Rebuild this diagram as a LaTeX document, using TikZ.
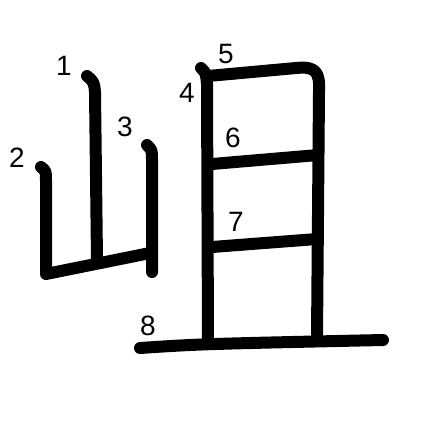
\documentclass[tikz,border=0pt]{standalone}
\usepackage{fontspec}
\setmainfont{Liberation Sans}
\usetikzlibrary{positioning}

\begin{document}
\begin{tikzpicture}[
    x=1pt, y=-1pt,
    brush/.style={line width=12pt, line cap=round, line join=round, black},
    num/.style={font=\fontsize{28}{30}\selectfont, inner sep=0pt},
]
    \useasboundingbox (0,0) rectangle (447,447);

    % left part: mountain
    \draw[brush] (87,76) .. controls (94,82) .. (95,92) -- (97,260);
    \draw[brush] (41,167) .. controls (46,171) .. (46,181) -- (46,274) -- (150,253);
    \draw[brush] (147,145) .. controls (152,150) .. (152,160) -- (152,272);

    % right part
    \draw[brush] (201,68) .. controls (206,73) .. (207,84) -- (208,342);
    \draw[brush] (208,76) -- (296,68) .. controls (316,66) and (320,72) .. (319,92) -- (317,337);
    \draw[brush] (212,164) -- (318,155);
    \draw[brush] (212,247) -- (317,239);
    \draw[brush] (140,348) .. controls (200,344) .. (383,340);

    % stroke numbers
    \node[num] (n1) at (64,66) {1};
    \node[num] (n2) at (17,158) {2};
    \node[num] (n3) at (125,127) {3};
    \node[num] (n4) at (187,93) {4};
    \node[num] (n5) at (226,54) {5};
    \node[num] (n6) at (233,138) {6};
    \node[num] (n7) at (236,222) {7};
    \node[num] (n8) at (148,326) {8};
\end{tikzpicture}
\end{document}
